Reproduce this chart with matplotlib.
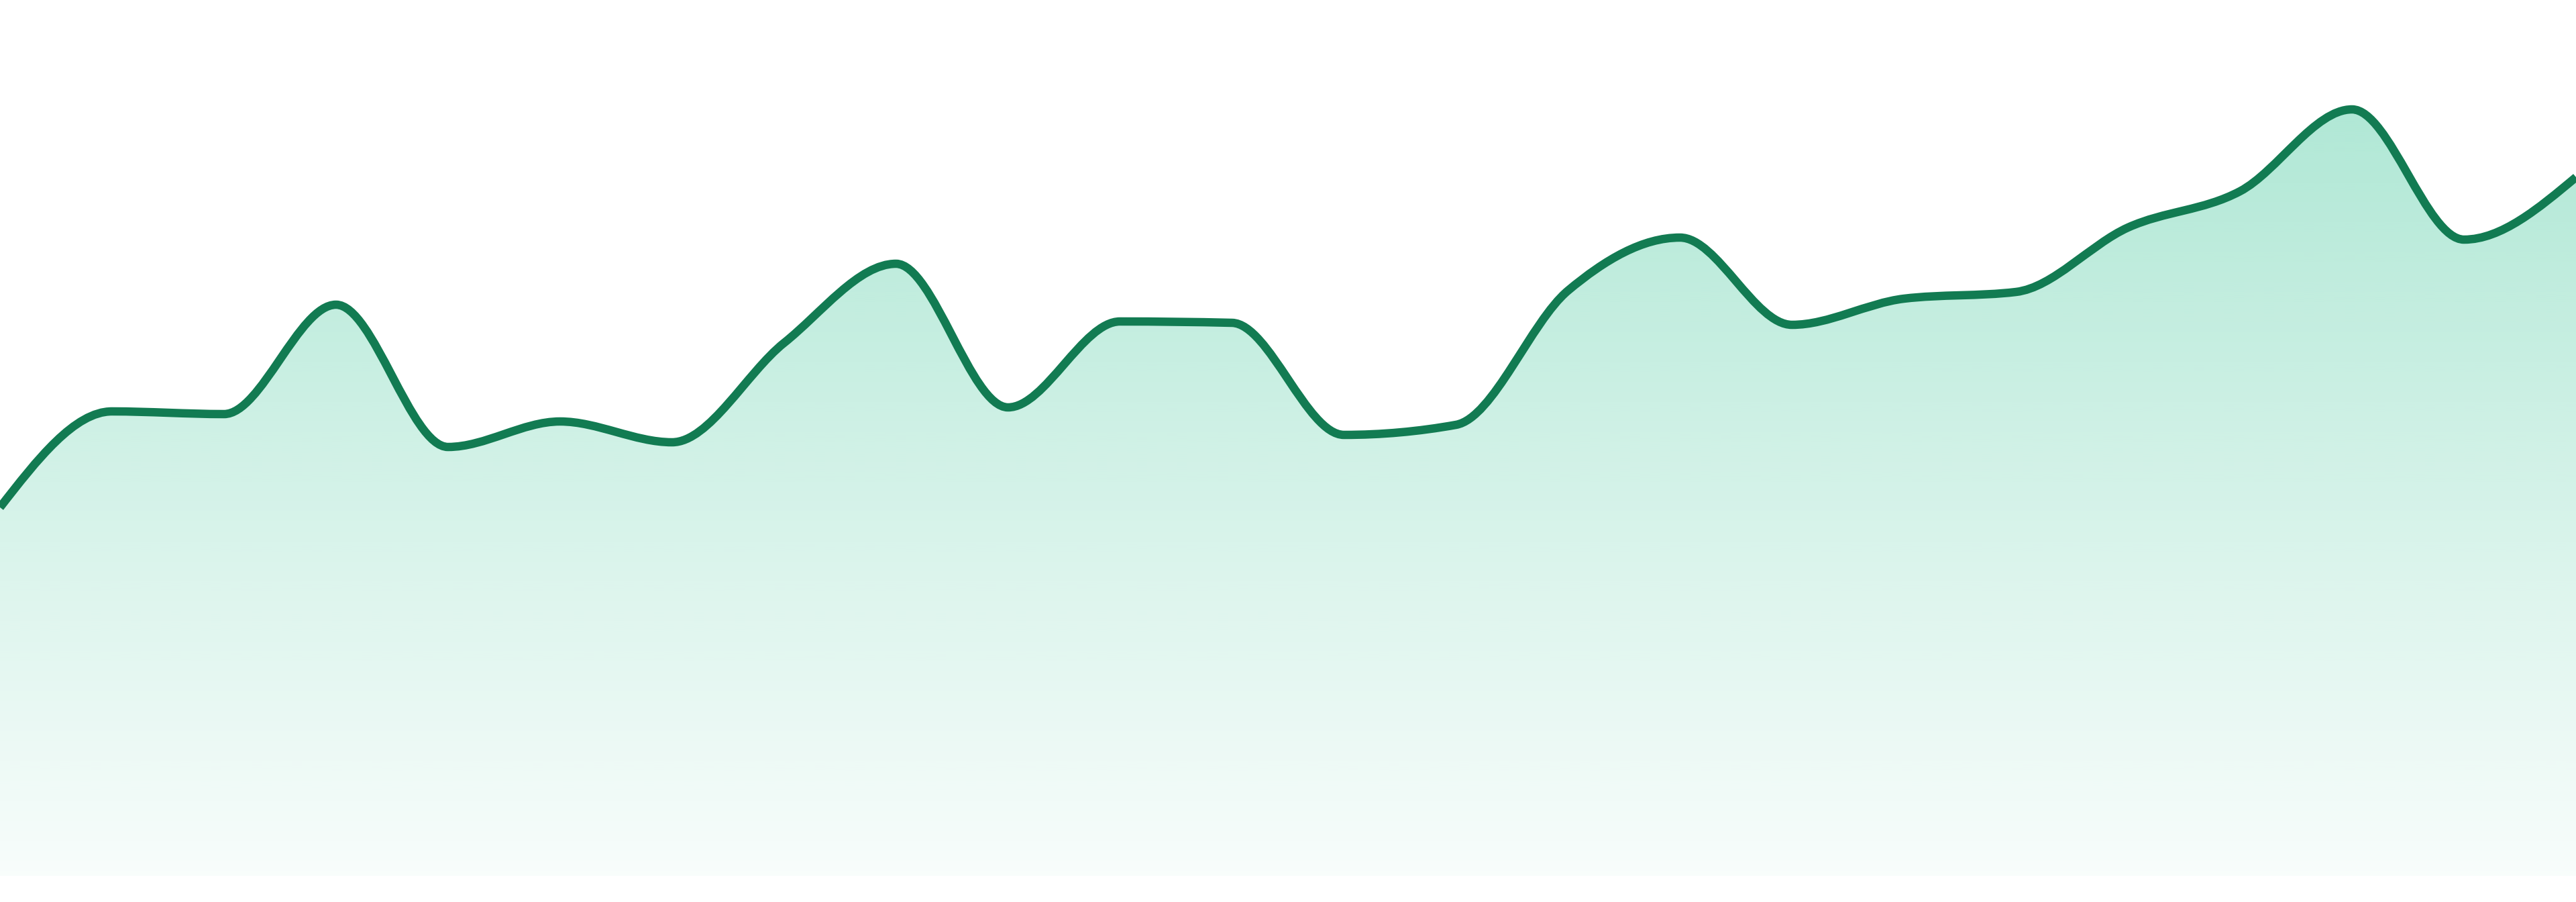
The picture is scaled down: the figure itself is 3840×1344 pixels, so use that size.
from __future__ import annotations

import matplotlib

matplotlib.use("Agg")

import matplotlib.pyplot as plt
import numpy as np
from matplotlib.colors import to_rgb
from matplotlib.patches import PathPatch
from matplotlib.path import Path

# one value per period
periods = list(range(24))
values = [
    54.9, 69.2, 68.8, 85.1, 63.9, 67.7, 64.6, 79.4, 91.2, 69.8, 82.6, 82.4,
    65.7, 67.2, 87.2, 95.1, 82.1, 86.0, 87.0, 96.6, 102.0, 114.2, 94.8, 104.1,
]

LINE_COLOR = "#127b52"
FILL_COLOR = "#10b981"
FILL_ALPHA_TOP = 0.33
FILL_ALPHA_BOTTOM = 0.03


def sign(v: float) -> float:
    return -1.0 if v < 0 else 1.0


def monotone_tangents(x: np.ndarray, y: np.ndarray) -> np.ndarray:
    """Tangents of a monotone cubic (same rule as d3 curveMonotoneX)."""
    h = np.diff(x)
    s = np.diff(y) / h
    n = len(x)
    t = np.zeros(n)
    for i in range(1, n - 1):
        p = (s[i - 1] * h[i] + s[i] * h[i - 1]) / (h[i - 1] + h[i])
        t[i] = (sign(s[i - 1]) + sign(s[i])) * min(abs(s[i - 1]), abs(s[i]), 0.5 * abs(p))
    t[0] = (3 * s[0] - t[1]) / 2
    t[-1] = (3 * s[-1] - t[-2]) / 2
    return t


def curve_path(x: np.ndarray, y: np.ndarray, baseline: float | None = None) -> Path:
    """Bezier path through the points; closed down to baseline when given."""
    t = monotone_tangents(x, y)
    verts = [(x[0], y[0])]
    codes = [Path.MOVETO]
    for i in range(len(x) - 1):
        dx = (x[i + 1] - x[i]) / 3
        verts += [
            (x[i] + dx, y[i] + dx * t[i]),
            (x[i + 1] - dx, y[i + 1] - dx * t[i + 1]),
            (x[i + 1], y[i + 1]),
        ]
        codes += [Path.CURVE4] * 3
    if baseline is not None:
        verts += [(x[-1], baseline), (x[0], baseline), (x[0], y[0])]
        codes += [Path.LINETO, Path.LINETO, Path.CLOSEPOLY]
    return Path(verts, codes)


def main() -> None:
    x = np.array(periods, dtype=float)
    y = np.array(values, dtype=float)

    fig = plt.figure(figsize=(38.4, 13.44), dpi=100)
    ax = fig.add_axes([0, 0, 1, 1])
    ax.set_xlim(x[0], x[-1])
    ax.set_ylim(-3.9, 130.5)
    ax.axis("off")

    # gradient fill under the curve
    rgb = np.array(to_rgb(FILL_COLOR))
    rows = 256
    alpha = np.linspace(FILL_ALPHA_TOP, FILL_ALPHA_BOTTOM, rows)
    grad = np.zeros((rows, 1, 4))
    grad[:, 0, :3] = rgb
    grad[:, 0, 3] = alpha
    img = ax.imshow(
        grad,
        extent=(x[0], x[-1], 0, y.max()),
        aspect="auto",
        origin="upper",
        interpolation="bilinear",
        zorder=1,
    )
    area = PathPatch(curve_path(x, y, baseline=0.0), facecolor="none", edgecolor="none")
    ax.add_patch(area)
    img.set_clip_path(area)

    line = PathPatch(
        curve_path(x, y),
        facecolor="none",
        edgecolor=LINE_COLOR,
        linewidth=9.0,
        joinstyle="round",
        capstyle="butt",
        zorder=2,
    )
    ax.add_patch(line)

    fig.savefig("out.png", dpi=100, facecolor="white")
    plt.close(fig)


if __name__ == "__main__":
    main()
